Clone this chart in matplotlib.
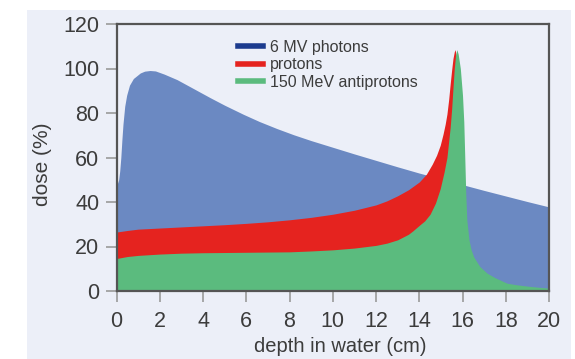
import matplotlib
matplotlib.use("Agg")
import matplotlib.pyplot as plt
from matplotlib.lines import Line2D
from matplotlib.patches import Rectangle

plt.rcParams['font.family'] = ['Liberation Sans', 'DejaVu Sans']

# depth-dose curves (depth in cm, dose in %)
photon_depth = [0, 0.1, 0.15, 0.2, 0.25, 0.3, 0.38, 0.47, 0.6, 0.78, 1.1, 1.3, 1.55, 1.8,
                2.2, 2.8, 3.5, 4.33, 5, 5.87, 6.6, 7.42, 8.2, 9, 10, 11, 12, 13, 14, 15,
                16, 17, 18, 19, 20]
photon_dose = [47, 50, 54, 60, 68, 75, 83, 88, 92.5, 95.5, 98, 98.8, 99.1, 98.9, 97.5, 95,
               91.3, 86.9, 83.5, 79.4, 76.2, 73, 70.2, 67.6, 64.6, 61.6, 58.7, 55.8, 53,
               50.4, 47.8, 45.2, 42.7, 40.2, 37.8]

proton_depth = [0, 0.5, 1, 2, 3, 4, 5, 6, 7, 8, 9, 10, 11, 12, 12.5, 13, 13.5, 14, 14.33,
                14.6, 14.8, 14.97, 15.1, 15.2, 15.28, 15.36, 15.43, 15.5, 15.56, 15.62,
                15.66, 15.72, 15.8, 15.9, 16.0, 20]
proton_dose = [26.5, 27.2, 27.8, 28.3, 28.8, 29.3, 29.8, 30.4, 31.1, 32, 33.1, 34.5, 36.3,
               38.7, 40.5, 42.8, 45.5, 49, 52.5, 57, 61, 65.5, 70.5, 75, 79.5, 86, 93,
               99.5, 104.5, 107.5, 108.5, 105, 85, 35, 0, 0]

antiproton_depth = [0, 0.5, 1, 2, 3, 4, 5, 6, 7, 8, 9, 10, 11, 12, 12.5, 13, 13.5, 13.7, 14,
                    14.25, 14.5, 14.75, 14.97, 15.15, 15.28, 15.43, 15.5, 15.56, 15.62,
                    15.68, 15.74, 15.8, 15.9, 16.0, 16.06, 16.1, 16.15, 16.2, 16.3, 16.4,
                    16.52, 16.8, 17.14, 17.5, 18.06, 18.5, 19, 19.5, 20]
antiproton_dose = [14.6, 15.5, 16, 16.6, 17, 17.2, 17.3, 17.4, 17.5, 17.6, 18, 18.5, 19.3,
                   20.5, 21.5, 23, 25.5, 27, 29.5, 31.5, 34.5, 39.5, 46, 53.5, 60, 73.5,
                   82, 91.3, 100, 106, 108.5, 106.5, 100, 88, 76, 62, 44, 32, 23, 18.5,
                   15.3, 11, 8, 6, 3.5, 2.8, 2.2, 1.7, 1.3]

labels = ["6 MV photons", "protons", "150 MeV antiprotons"]
x_ticks = [0, 2, 4, 6, 8, 10, 12, 14, 16, 18, 20]
y_ticks = [0, 20, 40, 60, 80, 100, 120]

panel = "#eceff8"
c_photon = "#6b89c2"
c_proton = "#e5231f"
c_anti = "#5bbb7e"
text_c = "#3c3c3c"

fig = plt.figure(figsize=(5.75, 3.59), dpi=100)
fig.patch.set_facecolor("white")
# light panel behind the plot
fig.add_artist(Rectangle((27 / 575, 0), 544 / 575, 349 / 359,
                         transform=fig.transFigure, facecolor=panel,
                         edgecolor="none", zorder=-5))

ax = fig.add_axes([116.5 / 575, 68 / 359, 432.5 / 575, 267 / 359])
ax.set_facecolor(panel)

ax.fill_between(photon_depth, 0, photon_dose, color=c_photon, lw=0, zorder=1)
ax.fill_between(proton_depth, 0, proton_dose, color=c_proton, lw=0, zorder=2)
ax.fill_between(antiproton_depth, 0, antiproton_dose, color=c_anti, lw=0, zorder=3)

ax.set_xlim(0, 20)
ax.set_ylim(0, 120)
ax.set_xticks(x_ticks)
ax.set_yticks(y_ticks)
ax.tick_params(axis="both", direction="out", length=8, width=1.2, color="#9a9a9a",
               labelsize=15.5, labelcolor=text_c)
ax.tick_params(axis="x", pad=6.5)
ax.tick_params(axis="y", pad=4.5)
for sp in ax.spines.values():
    sp.set_color("#555555")
    sp.set_linewidth(1.6)
    sp.set_zorder(5)

ax.set_xlabel("depth in water (cm)", fontsize=14.5, color=text_c)
ax.set_ylabel("dose (%)", fontsize=15, color=text_c)
ax.xaxis.set_label_coords(0.518, -0.172)
ax.yaxis.set_label_coords(-0.148, 0.476)

handles = [Line2D([], [], color="#1c3b8e", lw=4),
           Line2D([], [], color=c_proton, lw=4),
           Line2D([], [], color=c_anti, lw=4)]
leg = ax.legend(handles, labels, loc="upper left", bbox_to_anchor=(0.265, 0.965),
                frameon=False, fontsize=11.5, handlelength=1.6, handletextpad=0.45,
                labelspacing=0.15, borderaxespad=0)
for t in leg.get_texts():
    t.set_color(text_c)

fig.savefig("out.png", dpi=100)
